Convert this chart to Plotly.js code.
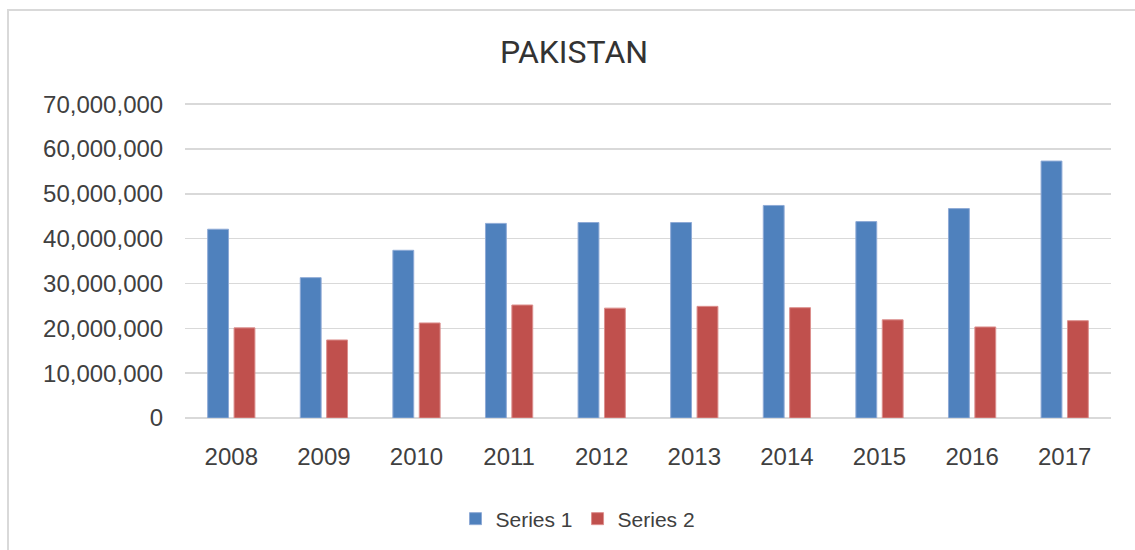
<!DOCTYPE html>
<html>
<head>
<meta charset="utf-8">
<script src="https://cdn.plot.ly/plotly-3.0.1.min.js"></script>
<style>
html,body{margin:0;padding:0;background:#fff;overflow:hidden;}
#wrap{position:relative;width:1135px;height:550px;}
#chart{position:absolute;left:0;top:0;width:1135px;height:550px;}
#frame{position:absolute;left:7px;top:9px;width:1150px;height:570px;border:2px solid #d9d9d9;pointer-events:none;box-sizing:border-box;}
</style>
</head>
<body>
<div id="wrap"><div id="chart"></div><div id="frame"></div></div>
<script>
const years = ['2008','2009','2010','2011','2012','2013','2014','2015','2016','2017'];
const series1 = [42100000, 31300000, 37400000, 43400000, 43600000, 43600000, 47400000, 43800000, 46700000, 57300000];
const series2 = [20100000, 17400000, 21200000, 25200000, 24500000, 24900000, 24600000, 21900000, 20300000, 21700000];
const seriesNames = ['Series 1', 'Series 2'];
const yTicks = [0, 10000000, 20000000, 30000000, 40000000, 50000000, 60000000, 70000000];

const data = [
  {type:'bar', x: years, y: series1, name: seriesNames[0],
   marker:{color:'#4f81bd', line:{color:'#8eaad6', width:1}}},
  {type:'bar', x: years, y: series2, name: seriesNames[1],
   marker:{color:'#c0504d', line:{color:'#dc8f8d', width:1}}}
];

const layout = {
  width:1135, height:550,
  paper_bgcolor:'rgba(0,0,0,0)', plot_bgcolor:'rgba(0,0,0,0)',
  margin:{l:185, r:24, t:103, b:132},
  title:{text:'PAKISTAN', x:574/1135, xref:'container', xanchor:'center',
         y:1-52/550, yref:'container', yanchor:'middle',
         font:{family:'Roboto, Liberation Sans, sans-serif', size:32, color:'#333333'}},
  barmode:'group', bargap:0.43, bargroupgap:0.21,
  xaxis:{type:'category', showgrid:false, zeroline:false, showline:false,
         ticks:'outside', ticklen:17, tickcolor:'rgba(0,0,0,0)',
         tickfont:{family:'Liberation Sans, Arial, sans-serif', size:24, color:'#404040'}},
  yaxis:{range:[0,70250000], tickvals:yTicks, ticktext: yTicks.map(v=>v.toLocaleString('en-US')),
         showgrid:true, gridcolor:'#d9d9d9', gridwidth:1.5, zeroline:true, zerolinecolor:'#d9d9d9', zerolinewidth:1.5,
         showline:false, ticks:'outside', ticklen:16, tickcolor:'rgba(0,0,0,0)',
         tickfont:{family:'Liberation Sans, Arial, sans-serif', size:24, color:'#404040'}},
  legend:{orientation:'h', xref:'container', yref:'container', x:578/1135, xanchor:'center',
          y:1-519/550, yanchor:'middle',
          font:{family:'Liberation Sans, Arial, sans-serif', size:21, color:'#404040'},
          itemclick:false, itemwidth:30, tracegroupgap:0},
  showlegend:true
};

Plotly.newPlot('chart', data, layout, {displayModeBar:false, staticPlot:true});
</script>
</body>
</html>
